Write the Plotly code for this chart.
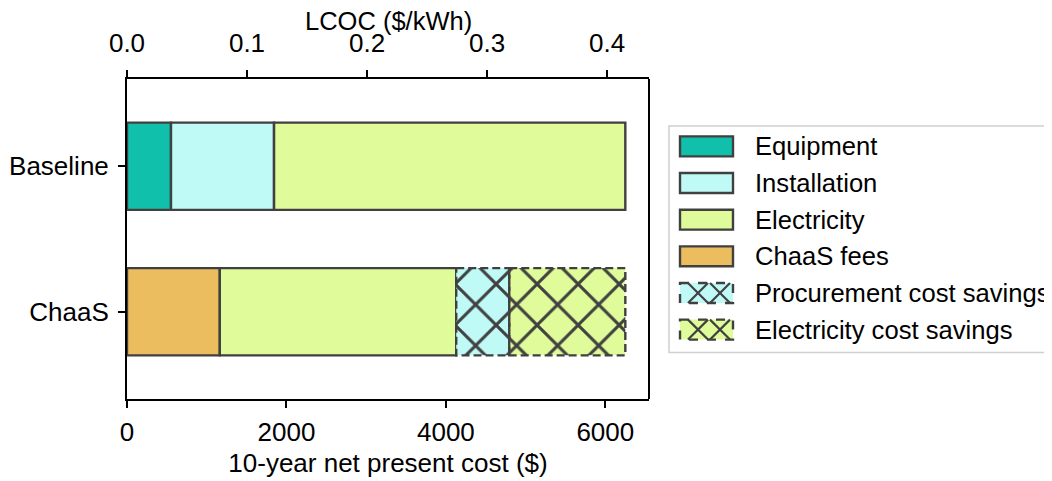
import plotly.graph_objects as go

# ---- data ----
categories = ["Baseline", "ChaaS"]
equipment = [552, 0]
installation = [1293, 0]
chaas_fees = [0, 1164]
electricity = [4406, 2966]
procurement_savings = [0, 665]
electricity_savings = [0, 1456]
x_max = 6548
kwh = 15054  # LCOC conversion factor ($ -> $/kWh)
x_ticks = [0, 2000, 4000, 6000]
top_ticks = [0.0, 0.1, 0.2, 0.3, 0.4]
legend_order = ["Equipment", "Installation", "Electricity", "ChaaS fees",
                "Procurement cost savings", "Electricity cost savings"]

colors = {
    "Equipment": "#10c0ab",
    "Installation": "#bffaf7",
    "Electricity": "#e0fb99",
    "ChaaS fees": "#ecbd5f",
    "Procurement cost savings": "#bffaf7",
    "Electricity cost savings": "#e0fb99",
}
EDGE = "#404040"
FONT = "Liberation Sans, Arial, sans-serif"
FS = 26
BAR_W = 0.6

# page offset (browser body margin)
OFF = 8
W, H = 1052 - OFF, 481 - OFF
PL, PR, PT, PB = 127, 649, 79, 399.5  # plot area in window pixels

ypos = list(range(len(categories)))

# stacking order (left to right)
series = [
    ("Equipment", equipment, False),
    ("Installation", installation, False),
    ("ChaaS fees", chaas_fees, False),
    ("Electricity", electricity, False),
    ("Procurement cost savings", procurement_savings, True),
    ("Electricity cost savings", electricity_savings, True),
]
hatched_names = {n for n, _, h in series if h}

fig = go.Figure()
base = [0] * len(categories)
outlines = []
for name, vals, hatched in series:
    b = list(base)
    if hatched:
        marker = dict(color=colors[name],
                      pattern=dict(shape="x", fgcolor=EDGE, bgcolor=colors[name],
                                   fgopacity=1, size=29, solidity=0.2, fillmode="overlay"),
                      line=dict(width=0))
    else:
        marker = dict(color=colors[name], line=dict(color=EDGE, width=2.4))
    fig.add_trace(go.Bar(y=ypos, x=vals, base=b, orientation="h", width=BAR_W,
                         marker=marker, name=name, showlegend=False))
    if hatched:
        for i, v in enumerate(vals):
            if v > 0:
                x0, x1 = b[i], b[i] + v
                y0, y1 = ypos[i] - BAR_W / 2, ypos[i] + BAR_W / 2
                outlines.append(([x0, x1, x1, x0, x0], [y0, y0, y1, y1, y0]))
    base = [base[i] + vals[i] for i in range(len(vals))]

for xs, ys in outlines:
    fig.add_trace(go.Scatter(x=xs, y=ys, mode="lines", showlegend=False,
                             line=dict(color=EDGE, width=2.4, dash="8px,4px"),
                             hoverinfo="skip"))

# invisible trace for top axis
fig.add_trace(go.Scatter(x=[0, x_max / kwh], y=[0, 0], xaxis="x2", mode="markers",
                         marker=dict(opacity=0), showlegend=False, hoverinfo="skip"))

axis_common = dict(showgrid=False, zeroline=False, showline=True, linecolor="black",
                   linewidth=2, ticks="outside", ticklen=7, tickwidth=1.8,
                   tickcolor="black", automargin=False,
                   tickfont=dict(family=FONT, size=FS, color="black"))

fig.update_layout(
    width=W, height=H,
    margin=dict(l=PL - OFF, r=W - (PR - OFF), t=PT - OFF, b=H - (PB - OFF)),
    plot_bgcolor="white", paper_bgcolor="white",
    barmode="overlay",
    showlegend=False,
    xaxis=dict(range=[0, x_max], tickvals=x_ticks, ticklabelstandoff=2,
               title=dict(text="10-year net present cost ($)",
                          font=dict(family=FONT, size=FS, color="black"), standoff=8),
               **axis_common),
    xaxis2=dict(range=[0, x_max / kwh], overlaying="x", side="top",
                tickvals=top_ticks, tickformat=".1f", ticklabelstandoff=8,
                **axis_common),
    yaxis=dict(range=[1.6, -0.6], tickvals=ypos, ticktext=categories,
               ticklabelstandoff=4, **axis_common),
)
# right spine
fig.add_shape(type="line", xref="paper", yref="paper", x0=1, x1=1, y0=0, y1=1,
              line=dict(color="black", width=2))

# ---- positions in window pixels ----
px_w = PR - PL
px_h = PB - PT


def px2x(px):
    return (px - PL) / px_w


def px2y(py):
    return 1 - (py - PT) / px_h


# top axis title
fig.add_annotation(xref="paper", yref="paper", x=0.5, y=px2y(21),
                   text="LCOC ($/kWh)", showarrow=False, xanchor="center", yanchor="middle",
                   font=dict(family=FONT, size=25.5, color="black"))

# ---- custom legend (matplotlib-style) ----
fig.add_shape(type="rect", xref="paper", yref="paper",
              x0=px2x(669), x1=px2x(1070), y0=px2y(126), y1=px2y(353),
              line=dict(color="#d0d0d0", width=1.5), fillcolor="white", layer="below")

row0 = 146.5
row_step = 36.7
for k, name in enumerate(legend_order):
    cy = row0 + k * row_step
    x0, x1 = px2x(680), px2x(733)
    y0, y1 = px2y(cy - 10), px2y(cy + 10)
    if name in hatched_names:
        fig.add_shape(type="rect", xref="paper", yref="paper", x0=x0, x1=x1, y0=y0, y1=y1,
                      fillcolor=colors[name], line=dict(color=EDGE, width=2.4, dash="dash"))
        for a, c in ((688, 708), (710, 730)):
            fig.add_shape(type="line", xref="paper", yref="paper",
                          x0=px2x(a), x1=px2x(c), y0=y0, y1=y1,
                          line=dict(color=EDGE, width=2.2))
            fig.add_shape(type="line", xref="paper", yref="paper",
                          x0=px2x(a), x1=px2x(c), y0=y1, y1=y0,
                          line=dict(color=EDGE, width=2.2))
    else:
        fig.add_shape(type="rect", xref="paper", yref="paper", x0=x0, x1=x1, y0=y0, y1=y1,
                      fillcolor=colors[name], line=dict(color=EDGE, width=2.4))
    fig.add_annotation(xref="paper", yref="paper", x=px2x(753), y=px2y(cy),
                       text=name, showarrow=False, xanchor="left", yanchor="middle",
                       font=dict(family=FONT, size=25.6, color="black"))

fig.write_html("out.html")
